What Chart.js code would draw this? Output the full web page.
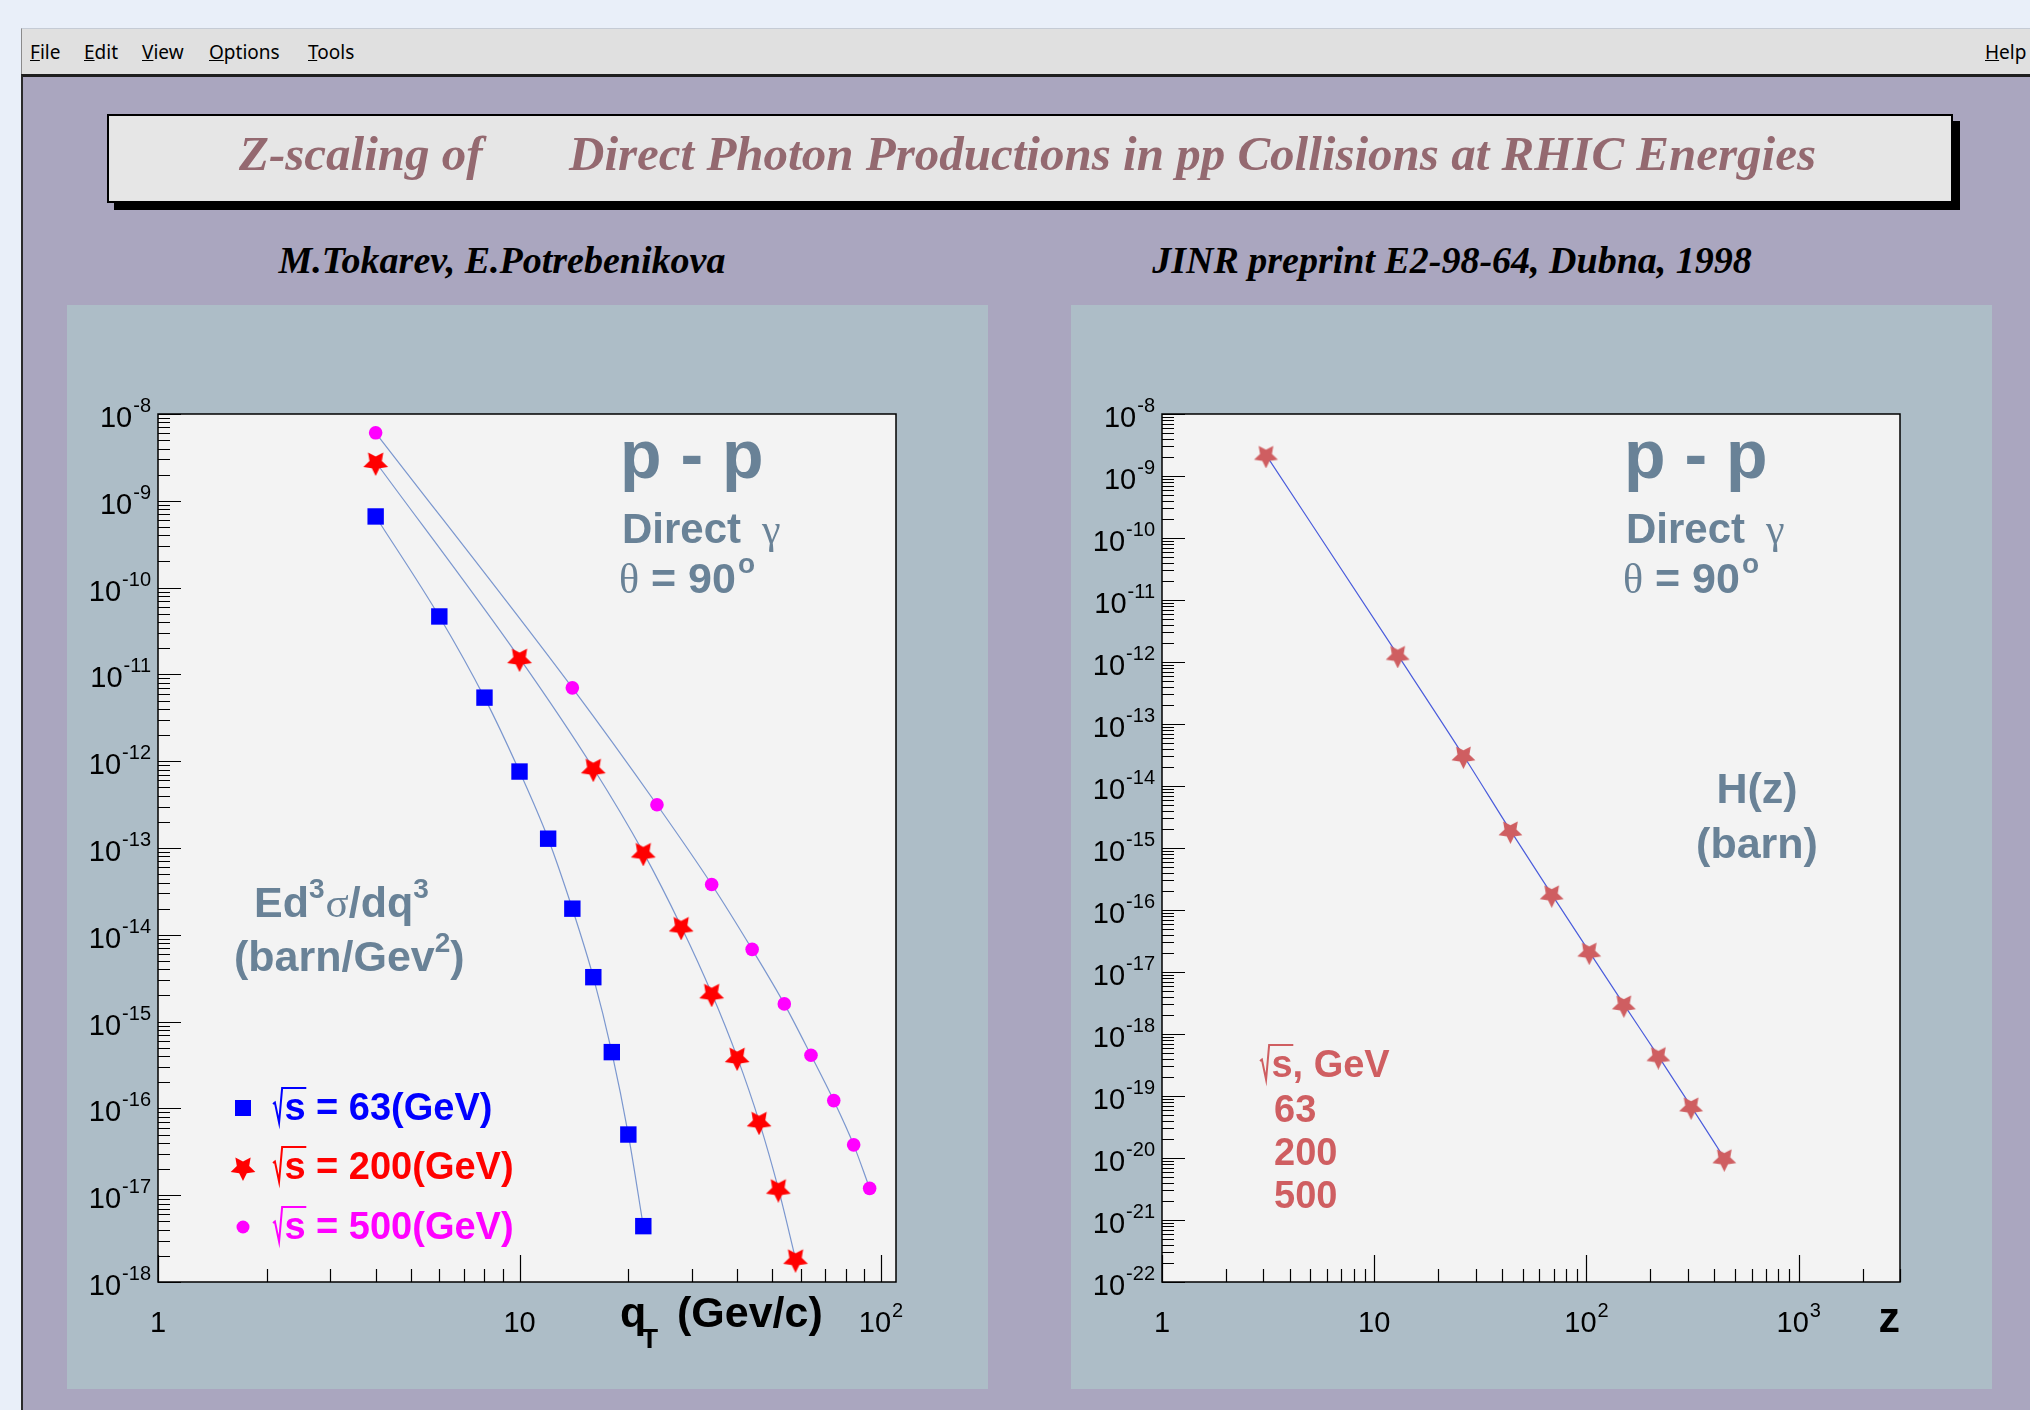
<!DOCTYPE html>
<html>
<head>
<meta charset="utf-8">
<title>Z-scaling of Direct Photon Productions in pp Collisions at RHIC Energies</title>
<script src="https://cdn.jsdelivr.net/npm/chart.js@4.4.1/dist/chart.umd.min.js"></script>
<style>
  html, body { margin: 0; padding: 0; }
  body { width: 2030px; height: 1410px; overflow: hidden; background: #e9eff9; position: relative;
         font-family: "Liberation Sans", Arial, sans-serif; }
  .abs { position: absolute; white-space: nowrap; }
  #menubar { left: 21px; top: 28px; width: 2009px; height: 46px; background: #e0e0e0;
             border-left: 1px solid #8a8a8a; border-top: 1px solid #c5cbd5; }
  .menu { font-family: "Noto Sans", sans-serif; font-size: 19px; line-height: 19px; top: 43px; color: #000; }
  #board { left: 21px; top: 74px; width: 2007px; height: 1333px; background: #aaa6bf;
           border-left: 2px solid #2a2a2a; border-top: 3px solid #1e1e1e; }
  #titlebox { left: 107px; top: 114px; width: 1842px; height: 85px; background: #e6e6e6;
              border: 2px solid #000; box-shadow: 7px 7px 0 #000; }
  .ttl { font-family: "Liberation Serif", "Times New Roman", serif; font-weight: bold; font-style: italic;
         line-height: 1; }
  .pad { top: 305px; width: 921px; height: 1084px; background: #adbdc7; }
</style>
</head>
<body>
<div id="menubar" class="abs"></div>
<span class="abs menu" style="left:30px"><u>F</u>ile</span>
<span class="abs menu" style="left:84px"><u>E</u>dit</span>
<span class="abs menu" style="left:142px"><u>V</u>iew</span>
<span class="abs menu" style="left:209px"><u>O</u>ptions</span>
<span class="abs menu" style="left:308px"><u>T</u>ools</span>
<span class="abs menu" style="left:1985px"><u>H</u>elp</span>
<div id="board" class="abs"></div>
<div id="titlebox" class="abs"></div>
<span class="abs ttl" style="left:239px; top:129px; font-size:49px; color:#946970">Z-scaling of</span>
<span class="abs ttl" style="left:569px; top:129px; font-size:49px; color:#946970">Direct Photon Productions in pp Collisions at RHIC Energies</span>
<div class="abs ttl" style="left:202px; width:600px; text-align:center; top:241px; font-size:38px; color:#000">M.Tokarev, E.Potrebenikova</div>
<div class="abs ttl" style="left:1102px; width:700px; text-align:center; top:241px; font-size:38px; color:#000">JINR preprint E2-98-64, Dubna, 1998</div>
<div class="abs pad" style="left:67px"><canvas id="qtChart" width="921" height="1084"></canvas></div>
<div class="abs pad" style="left:1071px"><canvas id="zChart" width="921" height="1084"></canvas></div>

<script>
// ---- data ----
const qt63 = [4, 6, 8, 10, 12, 14, 16, 18, 20, 22];
const sig63 = [6.6e-10, 4.65e-11, 5.4e-12, 7.6e-13, 1.28e-13, 2.0e-14, 3.25e-15, 4.45e-16, 5.0e-17, 4.4e-18];
const qt200 = [4, 10, 16, 22, 28, 34, 40, 46, 52, 58];
const sig200 = [2.8e-9, 1.54e-11, 8.3e-13, 8.9e-14, 1.25e-14, 2.12e-15, 3.9e-16, 7.1e-17, 1.19e-17, 1.85e-18];
const qt500 = [4, 14, 24, 34, 44, 54, 64, 74, 84, 93];
const sig500 = [6.07e-9, 7.0e-12, 3.15e-13, 3.8e-14, 6.8e-15, 1.6e-15, 4.1e-16, 1.23e-16, 3.8e-17, 1.2e-17];

const zVal = [3.09, 12.9, 26.3, 43.8, 68.6, 103, 150, 218, 311, 446];
const hVal = [2.19e-9, 1.30e-12, 3.1e-14, 1.92e-15, 1.79e-16, 2.13e-17, 3.0e-18, 4.4e-19, 6.8e-20, 9.9e-21];

// tick labels
const qtXLabels = ['1', '10', '10^2'];
const qtYLabels = ['10^-8', '10^-9', '10^-10', '10^-11', '10^-12', '10^-13', '10^-14', '10^-15', '10^-16', '10^-17', '10^-18'];
const zXLabels = ['1', '10', '10^2', '10^3'];
const zYLabels = ['10^-8', '10^-9', '10^-10', '10^-11', '10^-12', '10^-13', '10^-14', '10^-15', '10^-16', '10^-17',
                  '10^-18', '10^-19', '10^-20', '10^-21', '10^-22'];

const energyLabels = ['63', '200', '500'];

// ---- helpers ----
const SANS = s => `${s}px "Liberation Sans", Arial, sans-serif`;
const SANSB = s => `bold ${s}px "Liberation Sans", Arial, sans-serif`;
const SERIF = s => `${s}px "Liberation Serif", "Times New Roman", serif`;

function labelValue(lab) {
    const [b, e] = lab.split('^');
    return e === undefined ? Number(b) : Math.pow(10, Number(e));
}

function starImage(color, R) {
    const c = document.createElement('canvas');
    const s = Math.ceil(R * 2) + 2;
    c.width = s; c.height = s;
    const g = c.getContext('2d');
    g.fillStyle = color;
    g.beginPath();
    for (let i = 0; i < 10; i++) {
        const r = i % 2 ? R * 0.5 : R;
        const ang = Math.PI / 2 + i * Math.PI / 5; // points downward
        g.lineTo(s / 2 + r * Math.cos(ang), s / 2 + 1 + r * Math.sin(ang));
    }
    g.closePath();
    g.fill();
    return c;
}

const redStar = starImage('#ff0000', 13);
const pinkStar = starImage('#cf5e61', 12.5);

// text runs: [{t, f, up, dx}]
function runs(ctx, x, y, parts) {
    ctx.textAlign = 'left';
    for (const p of parts) {
        ctx.font = p.f;
        x += p.dx || 0;
        ctx.fillText(p.t, x, y - (p.up || 0));
        x += ctx.measureText(p.t).width;
    }
    return x;
}

function powLabel(ctx, lab, x, y, align) {
    const [b, e] = lab.split('^');
    ctx.font = SANS(29);
    const wb = ctx.measureText(b).width;
    ctx.font = SANS(20);
    const we = e ? ctx.measureText(e).width + 1 : 0;
    const x0 = align === 'right' ? x - wb - we : x - (wb + we) / 2;
    ctx.textAlign = 'left';
    ctx.font = SANS(29);
    ctx.fillText(b, x0, y);
    if (e) {
        ctx.font = SANS(20);
        ctx.fillText(e, x0 + wb + 1, y - 15);
    }
}

// radical with overline + "s"
function sqrtS(ctx, x0, bl, F, color) {
    ctx.save();
    ctx.font = SANSB(F);
    const ws = ctx.measureText('s').width;
    ctx.strokeStyle = color;
    ctx.lineWidth = 2;
    ctx.beginPath();
    ctx.moveTo(x0, bl - 0.42 * F);
    ctx.lineTo(x0 + 0.05 * F, bl - 0.46 * F);
    ctx.lineTo(x0 + 0.16 * F, bl + 0.07 * F);
    ctx.lineTo(x0 + 0.24 * F, bl - 0.84 * F);
    ctx.lineTo(x0 + 0.32 * F + ws, bl - 0.84 * F);
    ctx.stroke();
    ctx.fillStyle = color;
    ctx.textAlign = 'left';
    ctx.fillText('s', x0 + 0.3 * F, bl);
    ctx.restore();
    return x0 + 0.3 * F + ws;
}

function ppBlock(ctx, ox, oy) {
    ctx.fillStyle = '#698297';
    ctx.textAlign = 'left';
    ctx.font = SANSB(68);
    ctx.fillText('p - p', ox + 462, oy + 64);
    ctx.font = SANSB(42);
    ctx.fillText('Direct', ox + 464, oy + 129);
    ctx.font = SERIF(42);
    ctx.fillText('γ', ox + 604, oy + 129);
    runs(ctx, ox + 461, oy + 179, [
        { t: 'θ', f: SERIF(42) },
        { t: ' = 90', f: SANSB(43) },
        { t: 'o', f: SANSB(28), up: 20, dx: 2 }
    ]);
}

// ROOT-like frame, inward log ticks and labels
const rootFrame = {
    id: 'rootFrame',
    beforeDatasetsDraw(chart) {
        const { ctx, chartArea: a } = chart;
        ctx.save();
        ctx.fillStyle = '#f3f3f3';
        ctx.fillRect(a.left, a.top, a.right - a.left, a.bottom - a.top);
        ctx.restore();
    },
    afterDatasetsDraw(chart, args, opts) {
        const { ctx, chartArea: a, scales: { x, y } } = chart;
        ctx.save();
        ctx.strokeStyle = '#000';
        ctx.lineWidth = 1.5;
        ctx.strokeRect(a.left, a.top, a.right - a.left, a.bottom - a.top);

        ctx.lineWidth = 1.2;
        ctx.beginPath();
        for (let d = Math.floor(Math.log10(x.min)); d <= Math.ceil(Math.log10(x.max)); d++) {
            for (let k = 1; k <= 9; k++) {
                const v = k * Math.pow(10, d);
                if (v < x.min || v > x.max) continue;
                const px = Math.round(x.getPixelForValue(v)) + 0.5;
                const len = k === 1 ? 27 : 13;
                ctx.moveTo(px, a.bottom);
                ctx.lineTo(px, a.bottom - len);
            }
        }
        for (let d = Math.floor(Math.log10(y.min)); d <= Math.ceil(Math.log10(y.max)); d++) {
            for (let k = 1; k <= 9; k++) {
                const v = k * Math.pow(10, d);
                if (v < y.min * 0.999 || v > y.max * 1.001) continue;
                const py = Math.round(y.getPixelForValue(v)) + 0.5;
                const len = k === 1 ? 23 : 12;
                ctx.moveTo(a.left, py);
                ctx.lineTo(a.left + len, py);
            }
        }
        ctx.stroke();

        ctx.fillStyle = '#000';
        opts.xLabels.forEach(l => powLabel(ctx, l, x.getPixelForValue(labelValue(l)), a.bottom + 50, 'center'));
        opts.yLabels.forEach(l => powLabel(ctx, l, a.left - 7, y.getPixelForValue(labelValue(l)) + 13, 'right'));

        opts.decorate(ctx, a);
        ctx.restore();
    }
};

function makeChart(id, datasets, xMax, yMin, frameOpts) {
    return new Chart(document.getElementById(id), {
        type: 'line',
        data: { datasets: datasets },
        options: {
            responsive: false,
            animation: false,
            devicePixelRatio: 1,
            layout: { padding: { left: 91, top: 109, right: 92, bottom: 107 } },
            plugins: { legend: { display: false }, tooltip: { enabled: false }, rootFrame: frameOpts },
            scales: {
                x: { type: 'logarithmic', min: 1, max: xMax, display: false },
                y: { type: 'logarithmic', min: yMin, max: 1e-8, display: false }
            }
        },
        plugins: [rootFrame]
    });
}

const pts = (xs, ys) => xs.map((v, i) => ({ x: v, y: ys[i] }));

// ---- left: invariant cross section vs qT ----
makeChart('qtChart', [
    {
        data: pts(qt63, sig63), borderColor: '#7b97cf', borderWidth: 1.2,
        cubicInterpolationMode: 'monotone', pointStyle: 'rect', pointRadius: 11.6,
        pointBackgroundColor: '#0000ff', pointBorderColor: '#0000ff', pointBorderWidth: 0
    },
    {
        data: pts(qt200, sig200), borderColor: '#7b97cf', borderWidth: 1.2,
        cubicInterpolationMode: 'monotone', pointStyle: redStar, pointRadius: 13
    },
    {
        data: pts(qt500, sig500), borderColor: '#7b97cf', borderWidth: 1.2,
        cubicInterpolationMode: 'monotone', pointStyle: 'circle', pointRadius: 6.8,
        pointBackgroundColor: '#ff00ff', pointBorderColor: '#ff00ff', pointBorderWidth: 0
    }
], 110, 1e-18, {
    xLabels: qtXLabels,
    yLabels: qtYLabels,
    decorate(ctx, a) {
        const ox = a.left, oy = a.top;
        ppBlock(ctx, ox, oy);

        ctx.fillStyle = '#698297';
        runs(ctx, ox + 96, oy + 503, [
            { t: 'Ed', f: SANSB(43) },
            { t: '3', f: SANSB(28), up: 19 },
            { t: 'σ', f: SERIF(43), dx: 1 },
            { t: '/dq', f: SANSB(43) },
            { t: '3', f: SANSB(28), up: 19 }
        ]);
        runs(ctx, ox + 76, oy + 557, [
            { t: '(barn/Gev', f: SANSB(43) },
            { t: '2', f: SANSB(28), up: 19 },
            { t: ')', f: SANSB(43) }
        ]);

        // legend
        const colors = ['#0000ff', '#ff0000', '#ff00ff'];
        const rows = [694, 753, 813];
        rows.forEach((ry, i) => {
            const cy = oy + ry, cx = ox + 85;
            ctx.fillStyle = colors[i];
            if (i === 0) ctx.fillRect(cx - 8, cy - 8, 16, 16);
            if (i === 1) ctx.drawImage(redStar, cx - redStar.width / 2, cy - redStar.height / 2);
            if (i === 2) { ctx.beginPath(); ctx.arc(cx, cy, 6.5, 0, Math.PI * 2); ctx.fill(); }
            const bl = cy + 12;
            const xe = sqrtS(ctx, ox + 115, bl, 38, colors[i]);
            ctx.fillStyle = colors[i];
            runs(ctx, xe, bl, [{ t: ' = ' + energyLabels[i] + '(GeV)', f: SANSB(38) }]);
        });

        // axis title
        ctx.fillStyle = '#000';
        runs(ctx, ox + 462, a.bottom + 45, [{ t: 'q', f: SANSB(43) }]);
        runs(ctx, ox + 483, a.bottom + 66, [{ t: 'T', f: SANSB(28) }]);
        runs(ctx, ox + 519, a.bottom + 45, [{ t: '(Gev/c)', f: SANSB(43) }]);
    }
});

// ---- right: scaling function H(z) ----
makeChart('zChart', [
    {
        data: pts(zVal, hVal), borderColor: '#4a5cdc', borderWidth: 1.2,
        cubicInterpolationMode: 'monotone', pointStyle: pinkStar, pointRadius: 12
    }
], 3000, 1e-22, {
    xLabels: zXLabels,
    yLabels: zYLabels,
    decorate(ctx, a) {
        const ox = a.left, oy = a.top;
        ppBlock(ctx, ox, oy);

        ctx.fillStyle = '#698297';
        ctx.font = SANSB(43);
        ctx.textAlign = 'center';
        ctx.fillText('H(z)', ox + 595, oy + 389);
        ctx.fillText('(barn)', ox + 595, oy + 444);

        const red = '#cf5e61';
        const xe = sqrtS(ctx, ox + 98, oy + 663, 38, red);
        ctx.fillStyle = red;
        runs(ctx, xe, oy + 663, [{ t: ', GeV', f: SANSB(38) }]);
        [708, 751, 794].forEach((ry, i) => runs(ctx, ox + 112, oy + ry, [{ t: energyLabels[i], f: SANSB(38) }]));

        ctx.fillStyle = '#000';
        ctx.font = SANSB(43);
        ctx.textAlign = 'right';
        ctx.fillText('z', a.right, a.bottom + 50);
    }
});
</script>
</body>
</html>
